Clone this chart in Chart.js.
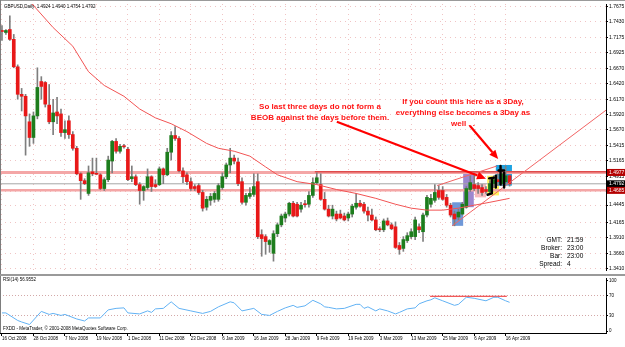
<!DOCTYPE html>
<html lang="en">
<head>
<meta charset="UTF-8">
<title>GBPUSD Daily</title>
<script src="https://cdn.jsdelivr.net/npm/chart.js@4.4.0/dist/chart.umd.min.js"></script>
<style>
  body { margin: 0; background: #fff; font-family: 'Liberation Sans', Arial, sans-serif; }
  #wrap { position: relative; width: 625px; height: 347px; overflow: hidden; background: #fff; }
  canvas { position: absolute; left: 0; }
  .line { position: absolute; background: #9a9a9a; }
  .t { position: absolute; white-space: nowrap; }
  .note { font-weight: bold; color: #ff1414; font-size: 8px; text-align: center; }
  .info { font-size: 6.5px; color: #000; line-height: 8px; }
</style>
</head>
<body>
<div id="wrap">
  <canvas id="main" width="625" height="274" style="top:0"></canvas>
  <canvas id="rsi" width="625" height="72" style="top:275px"></canvas>
  <div class="line" style="left:0;top:0;width:625px;height:1px"></div>
  <div class="line" style="left:0;top:0;width:1px;height:333px;background:#7d7d7d"></div>
  <div class="line" style="left:0;top:274px;width:625px;height:2px"></div>

  <div class="t note" style="left:220px;top:102px;width:200px;line-height:10.5px">So last three days do not form a<br>BEOB against the days before them.</div>
  <div class="t note" style="left:393px;top:95.5px;width:140px;line-height:11px">If you count this here as a 3Day,<br>everything else becomes a 3Day as<br>well . .</div>

  <div class="t info" style="left:522px;top:236px;width:40px;text-align:right">GMT:<br>Broker:<br>Bar:<br>Spread:</div>
  <div class="t info" style="left:567px;top:236px">21:59<br>23:00<br>23:00<br>4</div>
</div>
<script>
  // ---- data ----
  const dateLabels = ['16 Oct 2008', '28 Oct 2008', '7 Nov 2008', '19 Nov 2008', '1 Dec 2008', '11 Dec 2008',
    '23 Dec 2008', '6 Jan 2009', '16 Jan 2009', '28 Jan 2009', '9 Feb 2009', '19 Feb 2009', '3 Mar 2009',
    '13 Mar 2009', '25 Mar 2009', '6 Apr 2009', '16 Apr 2009'];
  const dateStep = 8;
  const priceTicks = [1.7675, 1.7430, 1.7175, 1.6925, 1.6670, 1.6420, 1.6170, 1.5920, 1.5670, 1.5415,
    1.5165, 1.4915, 1.4665, 1.4445, 1.4165, 1.3910, 1.3660, 1.3410];
  const rsiTicks = [0, 30, 70, 100];

  const open = [1.7291, 1.7259, 1.7307, 1.7147, 1.6699, 1.6251, 1.6219, 1.5803, 1.5547, 1.5899,
    1.6459, 1.6443, 1.6075, 1.5803, 1.5963, 1.5931, 1.5627, 1.5819, 1.5595, 1.5371,
    1.4955, 1.4843, 1.4635, 1.4987, 1.4955, 1.4939, 1.4715, 1.4859, 1.5163, 1.5483,
    1.5323, 1.5403, 1.5355, 1.4875, 1.4907, 1.4779, 1.4683, 1.4731, 1.4907, 1.4779,
    1.4779, 1.5035, 1.4939, 1.5307, 1.5579, 1.5531, 1.5003, 1.4939, 1.4827, 1.4747,
    1.4763, 1.4651, 1.4411, 1.4523, 1.4539, 1.4539, 1.4731, 1.4907, 1.5099, 1.5211,
    1.5147, 1.4827, 1.4491, 1.4587, 1.4619, 1.4827, 1.3963, 1.3931, 1.3803, 1.3659,
    1.3979, 1.4123, 1.4235, 1.4299, 1.4475, 1.4459, 1.4379, 1.4459, 1.4459, 1.4603,
    1.4811, 1.4779, 1.4539, 1.4379, 1.4267, 1.4299, 1.4299, 1.4267, 1.4235, 1.4299,
    1.4411, 1.4475, 1.4459, 1.4347, 1.4283, 1.4203, 1.4059, 1.4043, 1.4187, 1.4123,
    1.4091, 1.3787, 1.3739, 1.3867, 1.3931, 1.3931, 1.4091, 1.4011, 1.4283, 1.4459,
    1.4523, 1.4683, 1.4683, 1.4571, 1.4443, 1.4299, 1.4251, 1.4299, 1.4411, 1.4699,
    1.4779, 1.4763, 1.4731, 1.4699, 1.4667, 1.4795, 1.4859, 1.4795, 1.4827, 1.4924];
  const high = [1.7371, 1.7307, 1.7531, 1.7227, 1.6731, 1.6347, 1.6251, 1.5931, 1.5963, 1.6683,
    1.6539, 1.6459, 1.6411, 1.6171, 1.6203, 1.6011, 1.5819, 1.5899, 1.5643, 1.5403,
    1.4971, 1.4875, 1.5083, 1.5211, 1.5211, 1.4955, 1.4891, 1.5243, 1.5499, 1.5531,
    1.5435, 1.5435, 1.5387, 1.5083, 1.4939, 1.4811, 1.4763, 1.5035, 1.4923, 1.4859,
    1.5067, 1.5051, 1.5371, 1.5643, 1.5723, 1.5563, 1.5051, 1.4971, 1.4891, 1.4779,
    1.4795, 1.4683, 1.4587, 1.4635, 1.4667, 1.4795, 1.4971, 1.5131, 1.5371, 1.5259,
    1.5211, 1.4891, 1.4635, 1.4731, 1.4955, 1.4955, 1.4043, 1.3963, 1.3883, 1.4027,
    1.4155, 1.4299, 1.4331, 1.4491, 1.4507, 1.4491, 1.4491, 1.4523, 1.4667, 1.4891,
    1.4971, 1.4955, 1.4651, 1.4443, 1.4443, 1.4347, 1.4363, 1.4315, 1.4331, 1.4459,
    1.4635, 1.4523, 1.4491, 1.4411, 1.4379, 1.4251, 1.4091, 1.4219, 1.4235, 1.4155,
    1.4171, 1.3835, 1.3931, 1.3995, 1.4059, 1.4251, 1.4139, 1.4315, 1.4603, 1.4619,
    1.4779, 1.4763, 1.4747, 1.4619, 1.4475, 1.4347, 1.4379, 1.4491, 1.4747, 1.4923,
    1.4971, 1.4811, 1.4779, 1.4747, 1.4843, 1.4923, 1.4955, 1.5051, 1.5083, 1.4940];
  const low = [1.7131, 1.7227, 1.7131, 1.6683, 1.6171, 1.5979, 1.5259, 1.5403, 1.5451, 1.5851,
    1.6171, 1.6043, 1.5771, 1.5595, 1.5771, 1.5563, 1.5531, 1.5531, 1.5339, 1.4939,
    1.4539, 1.4779, 1.4603, 1.4923, 1.4939, 1.4699, 1.4683, 1.4827, 1.4971, 1.5291,
    1.5291, 1.5371, 1.4843, 1.4827, 1.4763, 1.4459, 1.4523, 1.4699, 1.4667, 1.4731,
    1.4763, 1.4795, 1.4923, 1.5179, 1.5499, 1.4987, 1.4811, 1.4779, 1.4683, 1.4683,
    1.4619, 1.4347, 1.4363, 1.4443, 1.4491, 1.4507, 1.4699, 1.4875, 1.4971, 1.5115,
    1.4763, 1.4459, 1.4443, 1.4555, 1.4587, 1.3899, 1.3611, 1.3643, 1.3675, 1.3531,
    1.3931, 1.4091, 1.4171, 1.4267, 1.4251, 1.4251, 1.4331, 1.4411, 1.4411, 1.4571,
    1.4779, 1.4523, 1.4363, 1.4251, 1.4219, 1.4187, 1.4219, 1.4187, 1.4187, 1.4251,
    1.4379, 1.4411, 1.4315, 1.4187, 1.4187, 1.4027, 1.4011, 1.4011, 1.4107, 1.4043,
    1.3739, 1.3643, 1.3691, 1.3835, 1.3899, 1.3883, 1.3995, 1.3851, 1.4251, 1.4411,
    1.4491, 1.4539, 1.4523, 1.4411, 1.4251, 1.4107, 1.4203, 1.4283, 1.4395, 1.4667,
    1.4683, 1.4635, 1.4603, 1.4635, 1.4619, 1.4731, 1.4763, 1.4763, 1.4795, 1.4754];
  const close = [1.7275, 1.7291, 1.7147, 1.6699, 1.6251, 1.6219, 1.5899, 1.5547, 1.5899, 1.6363,
    1.6379, 1.6091, 1.5803, 1.5947, 1.5899, 1.5627, 1.5675, 1.5595, 1.5371, 1.4955,
    1.4843, 1.4795, 1.4971, 1.4955, 1.4947, 1.4715, 1.4859, 1.5179, 1.5483, 1.5323,
    1.5403, 1.5395, 1.4859, 1.4907, 1.4779, 1.4683, 1.4747, 1.4907, 1.4747, 1.4747,
    1.5035, 1.4939, 1.5307, 1.5579, 1.5531, 1.5003, 1.4907, 1.4827, 1.4715, 1.4715,
    1.4651, 1.4395, 1.4539, 1.4587, 1.4635, 1.4763, 1.4907, 1.5099, 1.5211, 1.5163,
    1.4795, 1.4491, 1.4603, 1.4635, 1.4747, 1.3931, 1.3899, 1.3851, 1.3867, 1.3979,
    1.4123, 1.4267, 1.4299, 1.4475, 1.4267, 1.4267, 1.4443, 1.4451, 1.4603, 1.4811,
    1.4891, 1.4539, 1.4379, 1.4267, 1.4379, 1.4219, 1.4235, 1.4203, 1.4299, 1.4427,
    1.4475, 1.4427, 1.4347, 1.4283, 1.4203, 1.4043, 1.4043, 1.4187, 1.4123, 1.4059,
    1.3755, 1.3723, 1.3883, 1.3947, 1.4011, 1.4203, 1.4043, 1.4283, 1.4571, 1.4555,
    1.4651, 1.4571, 1.4539, 1.4443, 1.4283, 1.4219, 1.4331, 1.4459, 1.4715, 1.4811,
    1.4715, 1.4715, 1.4651, 1.4667, 1.4795, 1.4859, 1.4827, 1.4955, 1.4923, 1.4792];

  // moving average, read at a few bars
  const maBar = [0, 7, 13, 18, 22, 26, 31, 35, 39, 43, 47, 52, 55, 59, 63, 67, 70, 75, 80, 85, 90, 95, 100, 104, 108, 112, 116, 120, 124, 129];
  const maVal = [1.8299, 1.7771, 1.7339, 1.7035, 1.6619, 1.6395, 1.6219, 1.6011, 1.5867, 1.5771, 1.5643, 1.5451,
    1.5371, 1.5323, 1.5243, 1.5067, 1.4939, 1.4827, 1.4779, 1.4699, 1.4635, 1.4555, 1.4459, 1.4395, 1.4363,
    1.4363, 1.4395, 1.4443, 1.4491, 1.4555];

  // RSI(14), read at the turning points
  const rsiBar = [0, 1, 4, 5, 7, 10, 12, 13, 15, 16, 19, 21, 22, 25, 27, 29, 31, 32, 35, 37, 38, 39, 41, 43, 45, 48,
    51, 53, 55, 58, 59, 61, 64, 66, 68, 70, 72, 74, 75, 77, 79, 81, 82, 83, 85, 87, 90, 91, 92, 93, 95, 96, 98, 100,
    101, 103, 105, 106, 108, 109, 110, 112, 115, 116, 118, 120, 123, 125, 126, 128, 129];
  const rsiVal = [36, 36, 21, 18, 13, 39, 33, 35, 31, 33, 24, 20, 26, 26, 42, 45, 46, 36, 34, 40, 37, 44, 45, 58, 45, 40,
    35, 39, 48, 58, 56, 40, 45, 33, 31, 39, 46, 51, 47, 50, 61, 54, 48, 47, 44, 45, 53, 53, 45, 48, 40, 44, 40, 34,
    37, 44, 46, 54, 60, 62, 66, 60, 51, 53, 67, 65, 60, 67, 67, 60, 57];
  const rsiLast = 56.9552;

  // drawn objects (bar index, price)
  const resistLevel = 1.4977;
  const resistTop = 1.4987;
  const bidLevel = 1.4792;
  const supportLevel = 1.4685;
  const trendA = [[114.4, 1.4107], [160, 1.6305]];
  const trendB = [[110.6, 1.4763], [125.8, 1.5083]];
  const rsiCap = [[108.8, 69], [128.3, 69]];
  const boxes = [
    { from: 114.4, to: 117.2, top: 1.4491, bottom: 1.4107, color: '#6f98d8' },
    { from: 117.2, to: 119.9, top: 1.4971, bottom: 1.4411, color: '#9d87cf' },
    { from: 120.2, to: 123.0, top: 1.4795, bottom: 1.4571, color: '#f6b9bd' },
    { from: 123.3, to: 126.3, top: 1.4923, bottom: 1.4603, color: '#fff35c' },
    { from: 125.5, to: 129.6, top: 1.5099, bottom: 1.4763, color: '#1ea3e2' }
  ];
  const arrows = [
    [[85.1, 1.5803], [123.0, 1.4875]],
    [[118.9, 1.5739], [126.1, 1.5195]]
  ];
  const pen = [
    [[123.8, 1.4880], [125.0, 1.4891]],
    [[124.5, 1.4880], [124.5, 1.4635], [123.4, 1.4614]],
    [[125.5, 1.4923], [125.5, 1.4731]],
    [[126.2, 1.5008], [127.6, 1.5008]],
    [[126.7, 1.5083], [126.7, 1.4779]],
    [[127.6, 1.4971], [127.6, 1.4731]]
  ];
  const tags = [
    { value: resistLevel, bg: '#b40000' },
    { value: bidLevel, bg: '#000000' },
    { value: supportLevel, bg: '#b40000' }
  ];

  // ---- chart ----
  const FONT = "'Liberation Sans', Arial, sans-serif";
  Chart.defaults.font.family = FONT;
  Chart.defaults.font.size = 5;
  Chart.defaults.color = '#000';
  Chart.defaults.animation = false;
  Chart.defaults.plugins.legend.display = false;
  Chart.defaults.plugins.tooltip.enabled = false;

  const xMin = -0.5, xMax = 153.5;
  const yMin = 1.3387, yMax = 1.7723;
  const last = open.length - 1;

  const xy = arr => arr.map(p => ({ x: p[0], y: p[1] }));
  const flat = (v, from) => [{ x: from, y: v }, { x: xMax, y: v }];
  const bodies = open.map((o, i) => ({ x: i, y: [o, close[i]] }));
  const wicks = open.map((o, i) => ({ x: i, y: [low[i], high[i]] }));
  const bodyColors = open.map((o, i) => close[i] >= o ? '#1d7d1d' : '#e81818');
  const ma = maBar.map((b, i) => ({ x: b, y: maVal[i] }));
  const rsi = rsiBar.map((b, i) => ({ x: b, y: rsiVal[i] }));
  const dateTicks = s => { s.ticks = dateLabels.map((d, i) => ({ value: i * dateStep })); };

  const lineDs = (data, color, width, order) => ({
    type: 'line', data, borderColor: color, borderWidth: width, pointRadius: 0, order
  });

  const overlay = {
    id: 'overlay',
    beforeDatasetsDraw(chart) {
      const { ctx, chartArea: a, scales: { x, y } } = chart;
      ctx.save();
      ctx.beginPath(); ctx.rect(a.left, a.top, a.width, a.height); ctx.clip();
      boxes.forEach(b => {
        const x0 = x.getPixelForValue(b.from), x1 = x.getPixelForValue(b.to);
        const y0 = y.getPixelForValue(b.top), y1 = y.getPixelForValue(b.bottom);
        ctx.fillStyle = b.color;
        ctx.fillRect(x0, y0, x1 - x0, y1 - y0);
      });
      ctx.restore();
    },
    afterDatasetsDraw(chart) {
      const { ctx, chartArea: a, scales: { x, y } } = chart;
      ctx.save();
      ctx.beginPath(); ctx.rect(a.left, a.top, a.width, a.height); ctx.clip();
      ctx.strokeStyle = '#ff0000'; ctx.fillStyle = '#ff0000'; ctx.lineWidth = 2.2;
      arrows.forEach(([s, e]) => {
        const X0 = x.getPixelForValue(s[0]), Y0 = y.getPixelForValue(s[1]);
        const X1 = x.getPixelForValue(e[0]), Y1 = y.getPixelForValue(e[1]);
        const ang = Math.atan2(Y1 - Y0, X1 - X0), hl = 9, hw = 4;
        const bx = X1 - hl * Math.cos(ang), by = Y1 - hl * Math.sin(ang);
        ctx.beginPath(); ctx.moveTo(X0, Y0); ctx.lineTo(bx, by); ctx.stroke();
        ctx.beginPath(); ctx.moveTo(X1, Y1);
        ctx.lineTo(bx + hw * Math.sin(ang), by - hw * Math.cos(ang));
        ctx.lineTo(bx - hw * Math.sin(ang), by + hw * Math.cos(ang));
        ctx.closePath(); ctx.fill();
      });
      ctx.strokeStyle = '#000'; ctx.lineWidth = 2.4; ctx.lineCap = 'round'; ctx.lineJoin = 'round';
      pen.forEach(stroke => {
        ctx.beginPath();
        stroke.forEach(([b, p], i) => {
          const X = x.getPixelForValue(b), Y = y.getPixelForValue(p);
          if (i) ctx.lineTo(X, Y); else ctx.moveTo(X, Y);
        });
        ctx.stroke();
      });
      ctx.restore();
    },
    afterDraw(chart) {
      const { ctx, chartArea: a, scales: { y } } = chart;
      ctx.save();
      ctx.textBaseline = 'middle';
      ctx.font = '5px ' + FONT;
      tags.forEach(t => {
        const Y = y.getPixelForValue(t.value);
        ctx.fillStyle = t.bg;
        ctx.fillRect(a.right + 1, Y - 3.5, 19, 7);
        ctx.fillStyle = '#fff';
        ctx.fillText(t.value.toFixed(4), a.right + 3, Y);
      });
      ctx.fillStyle = '#000';
      ctx.font = '4.5px ' + FONT;
      const head = 'GBPUSD,Daily  ' + [open[last], high[last], low[last], close[last]].map(v => v.toFixed(4)).join(' ');
      ctx.fillText(head, 4, 7);
      ctx.restore();
    }
  };

  new Chart(document.getElementById('main'), {
    type: 'bar',
    data: {
      datasets: [
        lineDs(ma, '#f25454', 1, 0),
        lineDs(xy(trendA), '#f26464', 1, 0),
        lineDs(xy(trendB), '#f26464', 1, 0),
        { data: bodies, backgroundColor: bodyColors, barThickness: 3, minBarLength: 1, grouped: false, order: 1 },
        { data: wicks, backgroundColor: '#7e7e7e', barThickness: 1, grouped: false, order: 2 },
        lineDs(flat(resistTop, 79.5), '#d41c1c', 1, 3),
        lineDs(flat(resistLevel, xMin), '#f4a6a6', 3, 4),
        lineDs(flat(bidLevel, xMin), '#a6a6a6', 1, 4),
        lineDs(flat(supportLevel, xMin), '#f4a6a6', 2.5, 4)
      ]
    },
    options: {
      responsive: false,
      devicePixelRatio: 1,
      layout: { padding: { top: 3, left: 0, right: 0, bottom: 0 } },
      scales: {
        x: {
          type: 'linear', min: xMin, max: xMax, offset: false,
          afterBuildTicks: dateTicks,
          afterFit: s => { s.height = 0; },
          ticks: { display: false },
          grid: { offset: false, color: '#f0c4c4', drawTicks: false },
          border: { display: false, dash: [1, 4] }
        },
        y: {
          position: 'right', min: yMin, max: yMax,
          afterBuildTicks: s => { s.ticks = priceTicks.map(v => ({ value: v })); },
          afterFit: s => { s.width = 19; },
          ticks: { callback: v => v.toFixed(4), padding: 1, autoSkip: false, font: { size: 5 } },
          grid: { color: '#f0c4c4', tickColor: '#000', tickLength: 2 },
          border: { color: '#000', dash: [1, 4] }
        }
      }
    },
    plugins: [overlay]
  });

  const rsiText = {
    id: 'rsiText',
    afterDraw(chart) {
      const { ctx } = chart;
      ctx.save();
      ctx.fillStyle = '#000';
      ctx.textBaseline = 'middle';
      ctx.font = '4.5px ' + FONT;
      ctx.fillText('RSI(14) ' + rsiLast.toFixed(4), 3, 5);
      ctx.fillText('FXDD - MetaTrader, \u00a9 2001-2008 MetaQuotes Software Corp.', 3, 54);
      ctx.restore();
    }
  };

  new Chart(document.getElementById('rsi'), {
    type: 'line',
    data: {
      datasets: [
        { data: rsi, borderColor: '#62b2f4', borderWidth: 1, pointRadius: 0 },
        { data: xy(rsiCap), borderColor: '#ef2a2a', borderWidth: 1, pointRadius: 0 }
      ]
    },
    options: {
      responsive: false,
      devicePixelRatio: 1,
      layout: { padding: { top: 2, left: 0, right: 0, bottom: 0 } },
      scales: {
        x: {
          type: 'linear', min: xMin, max: xMax,
          afterBuildTicks: dateTicks,
          afterFit: s => { s.height = 14; },
          ticks: { callback: v => dateLabels[Math.round(v / dateStep)], align: 'start', padding: 0,
            autoSkip: false, maxRotation: 0, minRotation: 0, font: { size: 4.5 } },
          grid: { drawOnChartArea: false, tickColor: '#000', tickLength: 3 },
          border: { color: '#000' }
        },
        y: {
          position: 'right', min: -3.85, max: 103.85,
          afterBuildTicks: s => { s.ticks = rsiTicks.map(v => ({ value: v })); },
          afterFit: s => { s.width = 19; },
          ticks: { padding: 1, font: { size: 4.5 } },
          grid: {
            color: c => (c.tick && (c.tick.value === 30 || c.tick.value === 70)) ? '#d3a8a8' : 'rgba(0,0,0,0)',
            tickColor: '#000', tickLength: 2
          },
          border: { color: '#000', dash: [1, 2] }
        }
      }
    },
    plugins: [rsiText]
  });
</script>
</body>
</html>
